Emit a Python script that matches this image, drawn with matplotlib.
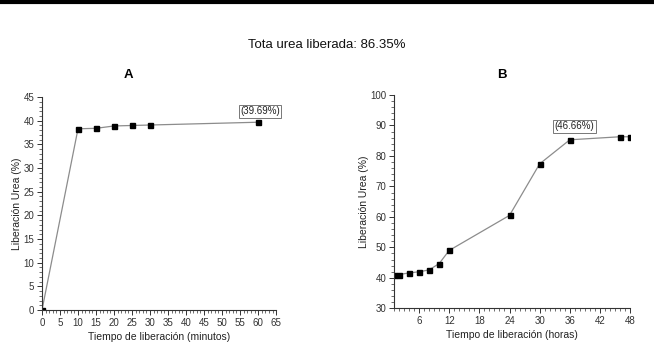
import matplotlib
matplotlib.use("Agg")
import matplotlib.pyplot as plt
from matplotlib.ticker import MultipleLocator
from matplotlib.lines import Line2D

plt.rcParams['font.family'] = ['Liberation Sans', 'DejaVu Sans']

# Panel A data (minutes)
a_time = [0, 10, 15, 20, 25, 30, 60]
a_release = [0, 38.3, 38.4, 38.9, 39.0, 39.1, 39.69]
# Panel B data (hours)
b_time = [1, 2, 4, 6, 8, 10, 12, 24, 30, 36, 46, 48]
b_release = [40.8, 41.1, 41.6, 42.0, 42.6, 44.7, 49.0, 60.5, 77.4, 85.3, 86.3, 86.3]

title = "Tota urea liberada: 86.35%"
a_label = "(39.69%)"
b_label = "(46.66%)"

fig = plt.figure(figsize=(6.54, 3.48), dpi=100)
fig.patch.set_facecolor('white')

# top border line
fig.add_artist(Line2D([0, 1], [0.995, 0.995], transform=fig.transFigure, color='black', lw=3))

fig.text(0.5, 0.87, title, ha='center', va='center', fontsize=9.5, color='#111111')

axA = fig.add_axes([0.0642, 0.109, 0.358, 0.612])
axB = fig.add_axes([0.6024, 0.114, 0.361, 0.613])

def style(ax):
    for s in ['top', 'right']:
        ax.spines[s].set_visible(False)
    for s in ['left', 'bottom']:
        ax.spines[s].set_color('#333333')
        ax.spines[s].set_linewidth(0.8)
    ax.tick_params(which='major', direction='out', length=3.5, width=0.7, labelsize=7,
                   colors='#333333', pad=2)
    ax.tick_params(which='minor', direction='out', length=2, width=0.5, colors='#333333')

axA.plot(a_time, a_release, color='#8c8c8c', lw=0.9, marker='s', ms=3.6,
         mfc='black', mec='black', clip_on=True)
axA.set_xlim(0, 65)
axA.set_ylim(0, 45)
axA.xaxis.set_major_locator(MultipleLocator(5))
axA.xaxis.set_minor_locator(MultipleLocator(1))
axA.yaxis.set_major_locator(MultipleLocator(5))
axA.yaxis.set_minor_locator(MultipleLocator(1))
style(axA)
axA.set_xlabel("Tiempo de liberación (minutos)", fontsize=7.5, color='#222222', labelpad=3)
axA.set_ylabel("Liberación Urea (%)", fontsize=7.5, color='#222222', labelpad=1)
axA.text(60.5, 42.0, a_label, ha='center', va='center', fontsize=7, color='#222222',
         bbox=dict(boxstyle='square,pad=0.15', fc='white', ec='#777777', lw=0.7))
fig.text(0.196, 0.785, "A", ha='center', va='center', fontsize=9.5, fontweight='bold')

axB.plot(b_time, b_release, color='#8c8c8c', lw=0.9, marker='s', ms=3.6,
         mfc='black', mec='black', clip_on=True)
axB.set_xlim(1, 48)
axB.set_ylim(30, 100)
axB.set_xticks([6, 12, 18, 24, 30, 36, 42, 48])
axB.xaxis.set_minor_locator(MultipleLocator(1))
axB.yaxis.set_major_locator(MultipleLocator(10))
axB.yaxis.set_minor_locator(MultipleLocator(2))
style(axB)
axB.set_xlabel("Tiempo de liberación (horas)", fontsize=7.5, color='#222222', labelpad=3)
axB.set_ylabel("Liberación Urea (%)", fontsize=7.5, color='#222222', labelpad=1)
axB.text(36.9, 89.8, b_label, ha='center', va='center', fontsize=7, color='#222222',
         bbox=dict(boxstyle='square,pad=0.15', fc='white', ec='#777777', lw=0.7))
fig.text(0.768, 0.785, "B", ha='center', va='center', fontsize=9.5, fontweight='bold')

fig.savefig("out.png", dpi=100, facecolor='white')
